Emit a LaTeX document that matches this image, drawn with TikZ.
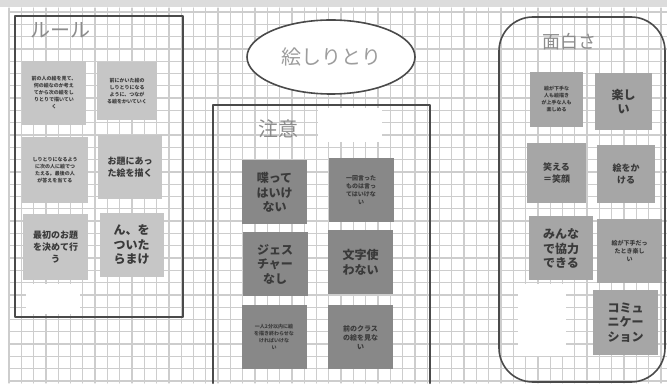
\documentclass[tikz,border=0pt]{standalone}
\usepackage{fontspec}
\setmainfont{Noto Sans CJK JP}
\usepackage{xcolor}
\usetikzlibrary{shapes.geometric}
\definecolor{gridgray}{HTML}{CDCDCD}
\definecolor{framegray}{HTML}{4A4A4A}
\definecolor{titlegray}{HTML}{8C8C8C}
\definecolor{textgray}{HTML}{3A3A3A}
\definecolor{rulefill}{HTML}{C6C6C6}
\definecolor{notefill}{HTML}{888888}
\definecolor{funfill}{HTML}{A6A6A6}
\tikzset{
  card/.style={inner sep=1pt, align=center, text=textgray, minimum width=64pt, minimum height=64pt},
  rulecard/.style={card, fill=rulefill},
  notecard/.style={card, fill=notefill, minimum width=65pt},
  funcard/.style={card, fill=funfill},
  bigtext/.style={font=\fontsize{12}{14.5}\bfseries},
  smalltext/.style={font=\fontsize{5}{7}\bfseries},
  heading/.style={text=titlegray, font=\fontsize{20}{22}\selectfont, inner sep=0pt},
  frame/.style={draw=framegray, line width=2.2pt}
}
\begin{document}
\begin{tikzpicture}[x=1pt,y=-1pt,line cap=round,line join=round]
                \useasboundingbox (0,0) rectangle (667,387);
                \fill [color=white] (0,0) rectangle (667,387);
                \fill [color=gridgray!70] (0,0) rectangle (667,7);
                % grid
                \foreach \gx in {9,21.3,...,667} \draw [color=gridgray, line width=1.3pt] (\gx,8) -- (\gx,383);
                \foreach \gy in {12,24.3,...,383} \draw [color=gridgray, line width=1.3pt] (9,\gy) -- (667,\gy);
                % blank patches
                \fill [color=white] (26,284) rectangle (80,314);
                \fill [color=white] (318,108) rectangle (382,142);
                \fill [color=white] (518,284) rectangle (566,356);
                % ルール
                \draw [frame] (15,16) rectangle (183,317);
                \node [heading, anchor=west] (rulehead) at (30,30) {ルール};
                \node [rulecard, smalltext] (rule1) at (54,93) {前の人の絵を見て、\\何の絵なのか考え\\てから次の絵をし\\りとりで描いてい\\く};
                \node [rulecard, smalltext, minimum width=60pt, minimum height=58pt] (rule2) at (127,91) {前にかいた絵の\\しりとりになる\\ように、つなが\\る絵をかいていく};
                \node [rulecard, smalltext, minimum width=66pt, minimum height=66pt] (rule3) at (55,170) {しりとりになるよう\\に次の人に絵でつ\\たえる。最後の人\\が答えを当てる};
                \node [rulecard, font=\fontsize{9}{12}\bfseries] (rule4) at (130,167) {お題にあっ\\た絵を描く};
                \node [rulecard, font=\fontsize{9}{12}\bfseries, minimum width=65pt, minimum height=66pt] (rule5) at (55.5,247) {最初のお題\\を決めて行\\う};
                \node [rulecard, bigtext] (rule6) at (131.5,245) {ん、を\\ついた\\らまけ};
                % 絵しりとり
                \node [ellipse, draw=framegray, line width=1.6pt, fill=white, minimum width=168pt, minimum height=74pt, text=titlegray!85, font=\fontsize{20}{22}\selectfont] (theme) at (331,57) {絵しりとり};
                % 注意
                \draw [frame] (213,383) -- (213,105) -- (430,105) -- (430,383);
                \node [heading, anchor=west] (notehead) at (258,129) {注意};
                \node [notecard, bigtext] (note1) at (274.5,192.5) {喋って\\はいけ\\ない};
                \node [notecard, font=\fontsize{6}{8}\bfseries] (note2) at (361,190) {一回言った\\ものは言っ\\てはいけな\\い};
                \node [notecard, bigtext] (note3) at (275,264) {ジェス\\チャー\\なし};
                \node [notecard, bigtext] (note4) at (360.5,262.5) {文字使\\わない};
                \node [notecard, smalltext] (note5) at (274,337) {一人2分以内に絵\\を描き終わらせな\\ければいけな\\い};
                \node [notecard, font=\fontsize{7}{9}\bfseries] (note6) at (360.5,337.5) {前のクラス\\の絵を見な\\い};
                % 面白さ
                \draw [framegray, line width=1.6pt, rounded corners=34pt] (499,17) rectangle (665,382);
                \node [heading, font=\fontsize{18}{20}\selectfont] (funhead) at (569,42) {面白さ};
                \node [funcard, smalltext, minimum width=53pt, minimum height=55pt] (fun1) at (556.5,99.5) {絵が下手な\\人も絵描き\\が上手な人も\\楽しめる};
                \node [funcard, bigtext, minimum width=57pt, minimum height=57pt] (fun2) at (623.5,101.5) {楽し\\い};
                \node [funcard, font=\fontsize{9}{12}\bfseries, minimum width=59pt, minimum height=60pt] (fun3) at (556.5,173) {笑える\\＝笑顔};
                \node [funcard, font=\fontsize{9}{12}\bfseries, minimum width=58pt, minimum height=58pt] (fun4) at (626,174) {絵をか\\ける};
                \node [funcard, bigtext] (fun5) at (561,248.5) {みんな\\で協力\\できる};
                \node [funcard, font=\fontsize{6}{8}\bfseries, minimum width=65pt] (fun6) at (629.5,251) {絵が下手だっ\\たとき楽し\\い};
                \node [funcard, bigtext, minimum width=65pt, minimum height=65pt] (fun7) at (625.5,322.5) {コミュ\\ニケー\\ション};
            \end{tikzpicture}
\end{document}
